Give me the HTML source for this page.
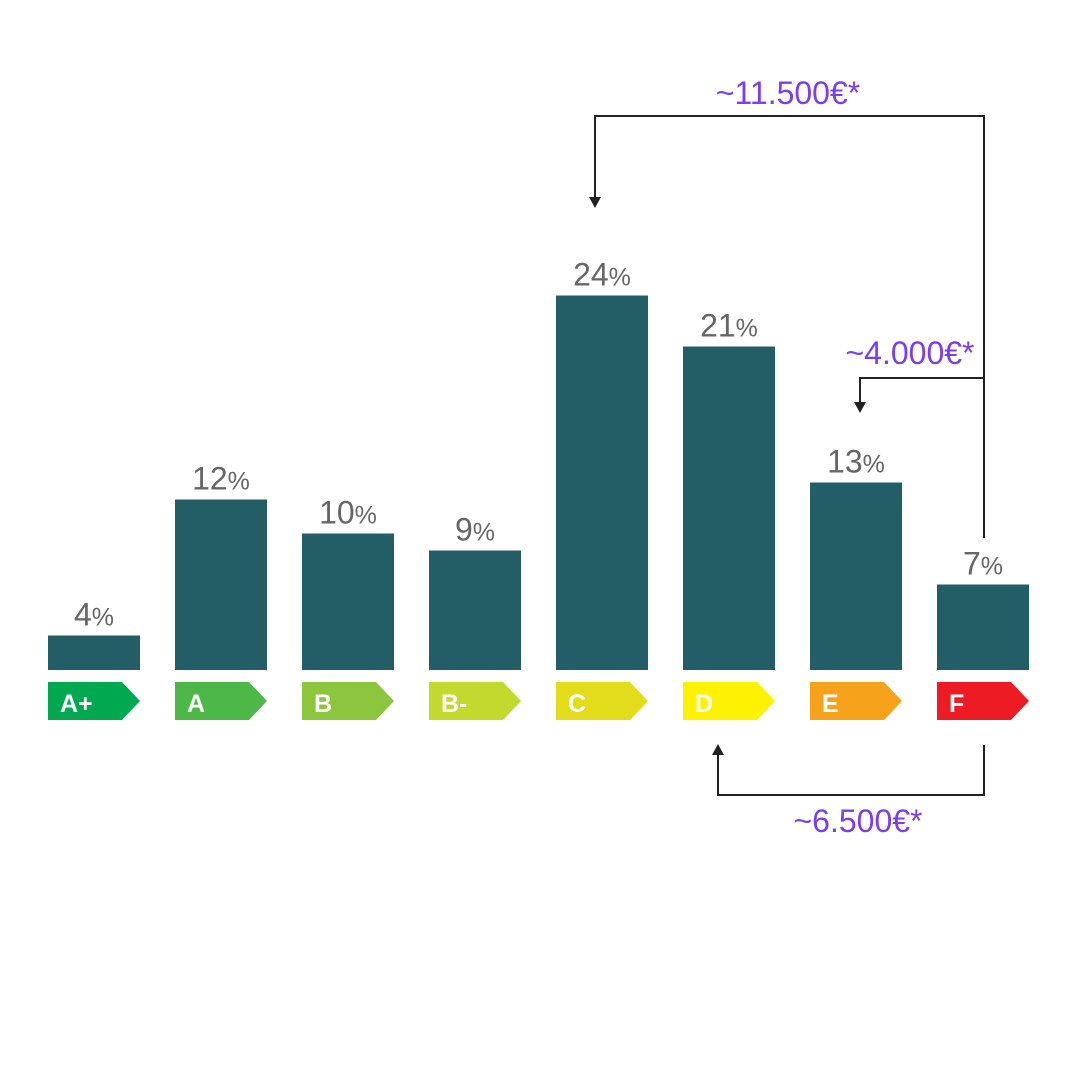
<!DOCTYPE html>
<html><head><meta charset="utf-8">
<style>
html,body{margin:0;padding:0;background:#fff;}
svg{display:block;font-family:"Liberation Sans",sans-serif;}
</style></head>
<body>
<svg id="chart" width="1074" height="1074" viewBox="0 0 1074 1074" xmlns="http://www.w3.org/2000/svg">
  <g id="bars"></g>
  <g id="labels"></g>
  <g fill="none" stroke="#222" stroke-width="2">
    <polyline points="984,538 984,116 595,116 595,200"/>
    <polygon points="589,197 601,197 595,208" fill="#222" stroke="none"/>
    <polyline points="984,378 860,378 860,405"/>
    <polygon points="854,402 866,402 860,413" fill="#222" stroke="none"/>
    <polyline points="984,745 984,795 718,795 718,752"/>
    <polygon points="712,755 724,755 718,744" fill="#222" stroke="none"/>
  </g>
  <g font-size="32" fill="#7b3cf5">
    <text x="788" y="104" text-anchor="middle">~11.500€*</text>
    <text x="910" y="364" text-anchor="middle">~4.000€*</text>
    <text x="858" y="832" text-anchor="middle">~6.500€*</text>
  </g>
</svg>
<script>
const categories = ["A+","A","B","B-","C","D","E","F"];
const values = [4,12,10,9,24,21,13,7];
const classColors = ["#00a84f","#4db848","#8cc63f","#c2d92e","#e2dc1a","#fff200","#f7a21b","#ed1c24"];
const NS = "http://www.w3.org/2000/svg";
const baseY = 670, x0 = 48, step = 127, bw = 92, pxPer = 17, offset = 33.5;
function xPos(i){ return x0 + i*step; }
function yPos(v){ return baseY - Math.max(2, v*pxPer - offset); }
const bars = document.getElementById('bars');
const labels = document.getElementById('labels');
categories.forEach((c,i)=>{
  const x = xPos(i), y = yPos(values[i]);
  const r = document.createElementNS(NS,'rect');
  
  
  r.setAttribute('x',x); r.setAttribute('y',y);
  r.setAttribute('width',bw); r.setAttribute('height',baseY-y);
  r.setAttribute('fill','#235e66');
  bars.appendChild(r);
  const t = document.createElementNS(NS,'text');
  
  
  t.setAttribute('x',x+bw/2); t.setAttribute('y',y-10);
  t.setAttribute('text-anchor','middle'); t.setAttribute('fill','#666');
  t.setAttribute('font-size','32');
  t.innerHTML = values[i] + '<tspan font-size="25">%</tspan>';
  bars.appendChild(t);
  const p = document.createElementNS(NS,'polygon');
  
  
  p.setAttribute('points',`${x},682 ${x+74},682 ${x+92},701 ${x+74},720 ${x},720`);
  p.setAttribute('fill',classColors[i]);
  labels.appendChild(p);
  const lt = document.createElementNS(NS,'text');
  
  
  lt.setAttribute('x',x+12); lt.setAttribute('y',712);
  lt.setAttribute('fill','#fff'); lt.setAttribute('font-size','25'); lt.setAttribute('font-weight','bold');
  lt.textContent = c;
  labels.appendChild(lt);
});
</script>
</body></html>
